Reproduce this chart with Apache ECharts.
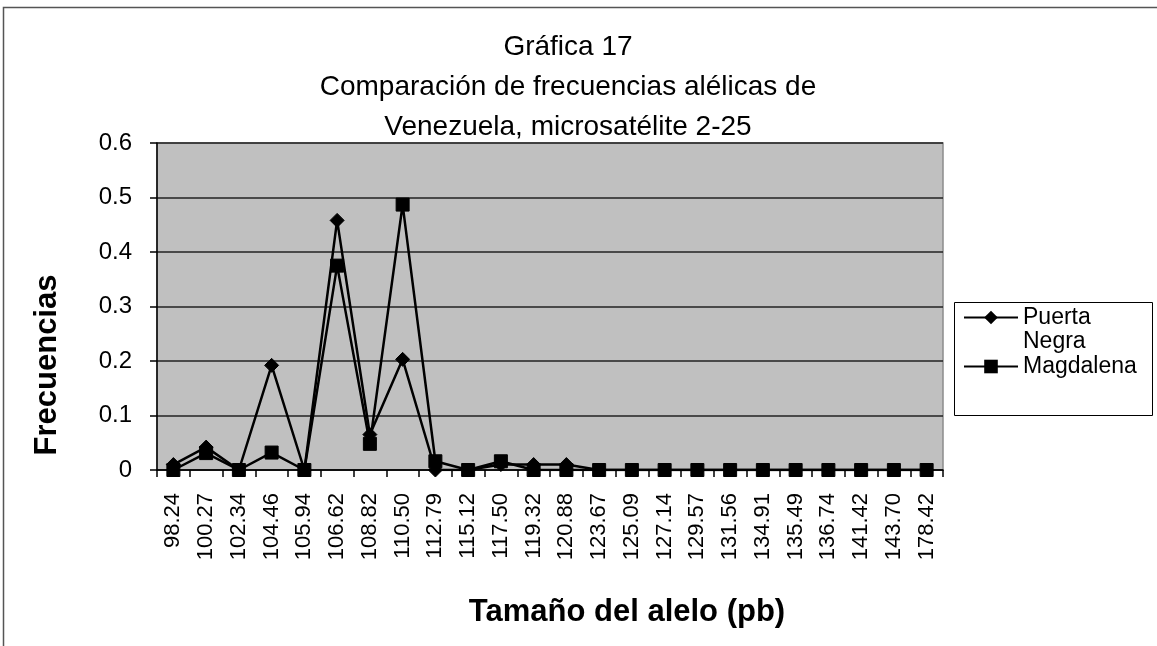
<!DOCTYPE html>
<html>
<head>
<meta charset="utf-8">
<script src="https://cdn.jsdelivr.net/npm/echarts@6/dist/echarts.min.js"></script>
<style>
  html, body { margin: 0; padding: 0; background: #ffffff; }
  #chart { width: 1157px; height: 646px; }
</style>
</head>
<body>
<div id="chart"></div>
<script>
// Allele sizes (pb) for microsatellite 2-25
const alleleSizes = ['98.24', '100.27', '102.34', '104.46', '105.94', '106.62', '108.82', '110.50',
  '112.79', '115.12', '117.50', '119.32', '120.88', '123.67', '125.09', '127.14', '129.57',
  '131.56', '134.91', '135.49', '136.74', '141.42', '143.70', '178.42'];

// Allelic frequencies per population
const puertaNegra = [0.01, 0.042, 0, 0.192, 0, 0.458, 0.065, 0.203, 0, 0, 0.01, 0.01, 0.01,
  0, 0, 0, 0, 0, 0, 0, 0, 0, 0, 0];
const magdalena = [0, 0.031, 0, 0.032, 0, 0.375, 0.048, 0.487, 0.016, 0, 0.016, 0, 0,
  0, 0, 0, 0, 0, 0, 0, 0, 0, 0, 0];

const yTicks = [0, 0.1, 0.2, 0.3, 0.4, 0.5, 0.6];

const FONT = '"Liberation Sans", Arial, sans-serif';

const chart = echarts.init(document.getElementById('chart'), null, { renderer: 'canvas' });

chart.setOption({
  animation: false,
  backgroundColor: '#ffffff',
  title: {
    text: 'Gráfica 17\nComparación de frecuencias alélicas de\nVenezuela, microsatélite 2-25',
    left: 563,
    top: 22,
    textAlign: 'center',
    textStyle: {
      fontFamily: FONT,
      fontSize: 28,
      fontWeight: 'normal',
      color: '#000',
      lineHeight: 40,
      align: 'center'
    }
  },
  legend: {
    orient: 'vertical',
    left: 963,
    top: 306,
    itemWidth: 54,
    itemHeight: 17,
    itemGap: 26,
    padding: 0,
    data: ['Puerta Negra', 'Magdalena'],
    formatter: function (name) { return name === 'Puerta Negra' ? 'Puerta' : name; },
    textStyle: { fontFamily: FONT, fontSize: 23, color: '#000' }
  },
  graphic: [
    // chart frame (top and left edges)
    { type: 'rect', shape: { x: 3.5, y: 7.5, width: 1200, height: 700 },
      style: { fill: null, stroke: '#555', lineWidth: 1.5 }, silent: true },
    // legend box
    { type: 'rect', shape: { x: 954.5, y: 302.5, width: 198, height: 113 },
      style: { fill: null, stroke: '#000', lineWidth: 1 }, silent: true },
    { type: 'text', x: 1023, y: 342,
      style: { text: 'Negra', fontFamily: FONT, fontSize: 23, fill: '#000',
               verticalAlign: 'middle', align: 'left' } },
    // axis titles
    { type: 'text', x: 47, y: 365, rotation: Math.PI / 2,
      style: { text: 'Frecuencias', fontFamily: FONT, fontSize: 31, fontWeight: 'bold',
               fill: '#000', align: 'center', verticalAlign: 'middle' } },
    { type: 'text', x: 627, y: 612,
      style: { text: 'Tamaño del alelo (pb)', fontFamily: FONT, fontSize: 31, fontWeight: 'bold',
               fill: '#000', align: 'center', verticalAlign: 'middle' } }
  ],
  grid: {
    left: 157,
    right: 214,
    top: 143,
    bottom: 176,
    show: true,
    backgroundColor: '#C0C0C0',
    borderColor: '#8c8c8c',
    borderWidth: 1.5
  },
  xAxis: {
    type: 'category',
    data: alleleSizes,
    boundaryGap: true,
    axisLine: { show: true, lineStyle: { color: '#000', width: 1.5 } },
    axisTick: { show: true, alignWithLabel: false, length: 7, lineStyle: { color: '#000', width: 1.5 } },
    axisLabel: {
      rotate: 90,
      interval: 0,
      margin: 23,
      fontFamily: FONT,
      fontSize: 22,
      color: '#000'
    },
    splitLine: { show: false }
  },
  yAxis: {
    type: 'value',
    min: 0,
    max: 0.6,
    interval: 0.1,
    axisLine: { show: true, lineStyle: { color: '#000', width: 1.5 } },
    axisTick: { show: true, length: 7, lineStyle: { color: '#000', width: 1.5 } },
    axisLabel: {
      margin: 25,
      fontFamily: FONT,
      fontSize: 24,
      color: '#000',
      formatter: function (v) {
        const t = yTicks.find(function (k) { return Math.abs(k - v) < 1e-9; });
        return t === undefined ? '' : String(t);
      }
    },
    splitLine: { show: true, lineStyle: { color: '#222', width: 1.5 } }
  },
  series: [
    {
      name: 'Puerta Negra',
      type: 'line',
      data: puertaNegra,
      symbol: 'diamond',
      symbolSize: 14,
      showAllSymbol: true,
      lineStyle: { color: '#000', width: 2.5 },
      itemStyle: { color: '#000', borderColor: '#000' },
      z: 3
    },
    {
      name: 'Magdalena',
      type: 'line',
      data: magdalena,
      symbol: 'rect',
      symbolSize: 13,
      showAllSymbol: true,
      lineStyle: { color: '#000', width: 2.5 },
      itemStyle: { color: '#000', borderColor: '#000' },
      z: 4
    }
  ]
});
</script>
</body>
</html>
